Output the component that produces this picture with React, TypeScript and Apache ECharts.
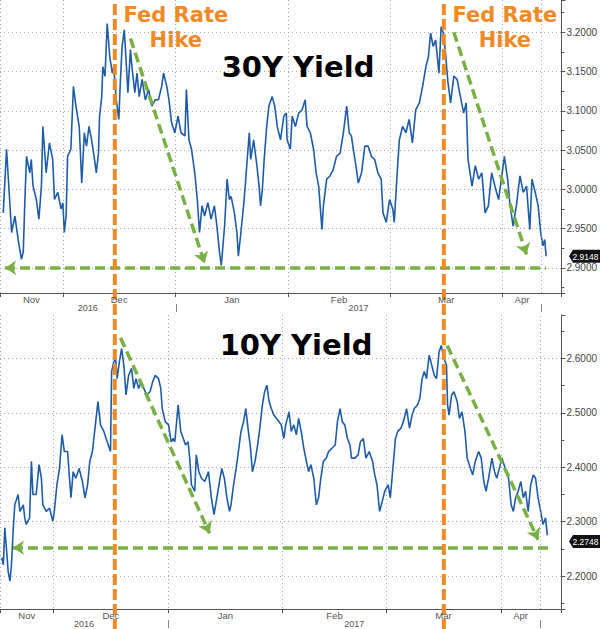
import React, { useEffect, useRef } from "react";
import * as echarts from "echarts";

const DAY = 86400000;
const BASE = new Date(2016, 11, 1).getTime(); // 2016-12-01, day 0
const ts = (d: number) => BASE + d * DAY;

// 30Y yield: days since 2016-12-01 and yield (%)
const days30 = [-16.4,-15.5,-14.1,-13.2,-12.3,-11.4,-10.9,-10.5,-10.0,-9.1,-8.7,-8.2,-7.3,-6.6,-5.9,-5.5,-4.6,-3.7,-2.8,-2.3,-1.4,-0.5,0.0,0.4,0.9,1.3,2.2,2.9,3.6,4.5,5.2,5.9,6.5,7.2,7.9,8.6,9.2,9.8,10.1,10.7,11.0,11.6,12.2,12.9,13.6,14.0,14.7,15.4,15.8,16.3,16.9,17.5,17.9,18.6,19.0,19.8,20.4,21.0,21.8,22.7,23.6,24.5,25.4,26.3,27.2,27.7,28.6,29.2,29.9,30.8,31.7,32.5,33.6,34.0,34.7,35.4,36.3,37.0,37.6,38.3,39.0,39.9,40.8,41.7,42.4,43.1,43.6,44.5,45.2,45.8,46.3,47.2,47.9,48.3,49.0,49.9,50.6,51.3,51.7,52.5,53.4,54.0,54.4,54.9,55.4,56.1,56.7,57.6,58.3,59.0,59.9,60.8,61.5,61.7,62.6,63.1,64.0,64.9,65.8,66.7,67.2,68.1,69.0,69.7,70.4,71.3,71.7,72.6,73.5,74.4,75.3,76.3,77.2,78.1,78.8,79.4,80.1,80.8,81.3,82.2,83.1,84.0,84.9,85.8,86.7,87.6,88.1,89.0,89.9,90.8,91.2,91.9,92.6,93.5,94.4,95.3,96.2,97.1,98.1,99.0,99.9,100.6,101.2,101.9,102.6,103.5,104.1,104.7,105.3,106.0,106.7,107.6,108.5,109.4,110.3,111.0,111.5,112.6,113.5,114.4,115.3,116.2,117.1,118.0,118.9,119.9,120.8,121.5,122.4,123.0,123.9,124.8,125.8,126.7,127.6,128.5,129.1,130.0,130.8,131.5,132.1,132.6,133.0];
const yld30 = [2.970,3.051,2.945,2.966,2.936,2.911,2.920,2.979,3.042,3.021,3.038,3.004,2.987,2.962,3.004,3.080,3.021,3.059,3.038,2.987,2.996,2.975,2.983,2.945,2.966,3.042,3.051,3.131,3.106,3.080,3.008,3.072,3.055,3.080,3.063,3.042,3.021,3.046,3.093,3.118,3.156,3.144,3.211,3.169,3.148,3.156,3.114,3.089,3.135,3.182,3.203,3.156,3.123,3.178,3.156,3.123,3.148,3.118,3.140,3.114,3.127,3.106,3.114,3.114,3.131,3.148,3.131,3.114,3.085,3.072,3.093,3.072,3.068,3.127,3.063,3.051,3.021,2.987,2.945,2.979,2.966,2.983,2.962,2.979,2.953,2.920,2.903,2.953,3.013,2.987,2.991,2.970,2.945,2.915,2.945,2.987,3.030,3.072,3.038,3.063,3.030,3.004,2.979,3.000,3.038,3.080,3.106,3.118,3.106,3.080,3.063,3.093,3.097,3.063,3.051,3.093,3.080,3.097,3.101,3.114,3.080,3.072,3.051,3.021,3.004,2.949,2.979,3.013,3.017,3.025,3.042,3.046,3.072,3.106,3.072,3.068,3.046,3.025,3.008,3.021,3.055,3.055,3.042,3.038,3.021,3.013,2.970,2.958,2.987,2.975,2.958,3.013,3.063,3.080,3.072,3.089,3.059,3.101,3.110,3.131,3.156,3.169,3.199,3.182,3.190,3.148,3.207,3.199,3.173,3.135,3.110,3.144,3.140,3.118,3.097,3.110,3.038,3.004,3.030,3.013,3.021,2.970,2.979,3.021,3.004,2.987,3.017,3.042,3.013,2.983,2.953,2.979,3.017,2.996,3.004,2.949,3.013,2.996,2.979,2.945,2.928,2.936,2.9148];

// 10Y yield: days since 2016-12-01 and yield (%)
const days10 = [-14.0,-13.6,-13.2,-12.7,-12.3,-11.8,-11.4,-10.9,-10.5,-9.6,-9.1,-8.2,-7.8,-7.4,-6.5,-6.0,-5.6,-4.7,-3.95,-3.3,-2.9,-2.0,-1.1,-0.2,0.2,0.9,1.6,2.3,2.9,3.8,4.3,4.7,5.3,6.0,6.9,7.8,8.5,9.2,9.8,10.5,11.4,12.0,12.7,13.6,14.5,15.4,15.7,16.3,16.8,17.2,17.8,18.4,19.0,19.6,20.3,21.1,21.7,22.3,23.0,23.7,24.4,25.2,26.1,26.8,27.5,28.4,29.0,29.4,30.2,31.1,31.8,32.4,32.8,33.7,34.4,35.1,35.7,36.4,36.9,37.3,38.2,38.6,39.3,40.0,40.9,41.9,42.7,43.4,44.0,44.9,45.5,46.2,46.9,47.6,48.0,48.7,49.4,50.0,50.7,51.4,52.0,52.7,53.2,53.8,54.5,55.2,55.8,56.5,57.1,57.7,58.3,58.9,59.6,60.3,61.0,61.6,62.3,62.8,63.7,64.3,65.0,65.7,66.3,67.0,67.7,68.4,69.0,69.6,70.4,71.1,71.7,72.3,73.0,73.8,74.4,75.3,76.2,76.8,77.5,78.1,78.8,79.5,80.2,80.6,81.5,82.4,83.0,83.8,84.5,85.4,86.3,86.9,87.5,88.2,88.9,89.6,90.5,91.1,91.8,92.5,93.1,94.0,94.9,95.5,96.3,97.0,97.6,98.5,99.1,99.7,100.3,100.9,101.6,102.3,103.0,103.6,104.3,104.9,105.6,106.3,106.6,107.0,107.7,108.3,109.2,109.8,110.5,111.3,111.9,112.8,113.4,114.1,115.0,115.7,116.4,117.0,117.7,118.6,119.3,119.9,120.6,121.3,122.2,123.1,123.8,124.4,125.0,125.7,126.4,127.1,127.7,128.4,129.1,129.8,130.4,131.1,131.8,132.4,133.1,133.6];
const yld10 = [2.234,2.221,2.289,2.246,2.209,2.191,2.221,2.289,2.331,2.350,2.319,2.331,2.307,2.295,2.307,2.411,2.350,2.350,2.405,2.380,2.331,2.319,2.325,2.301,2.319,2.368,2.398,2.460,2.429,2.429,2.380,2.344,2.392,2.380,2.398,2.374,2.344,2.368,2.411,2.429,2.484,2.521,2.478,2.466,2.447,2.429,2.576,2.594,2.600,2.563,2.594,2.618,2.588,2.533,2.569,2.582,2.545,2.563,2.545,2.557,2.545,2.533,2.539,2.557,2.569,2.563,2.545,2.508,2.484,2.478,2.447,2.453,2.447,2.515,2.466,2.453,2.441,2.447,2.411,2.368,2.356,2.423,2.392,2.380,2.374,2.392,2.344,2.313,2.337,2.374,2.398,2.380,2.344,2.319,2.331,2.368,2.398,2.429,2.466,2.484,2.508,2.466,2.441,2.392,2.411,2.441,2.472,2.515,2.539,2.551,2.521,2.508,2.496,2.490,2.484,2.478,2.453,2.478,2.502,2.466,2.478,2.460,2.490,2.466,2.435,2.411,2.392,2.405,2.380,2.331,2.344,2.380,2.411,2.417,2.429,2.435,2.441,2.484,2.508,2.484,2.478,2.453,2.441,2.417,2.417,2.423,2.447,2.453,2.417,2.429,2.411,2.386,2.368,2.319,2.337,2.356,2.368,2.344,2.398,2.453,2.466,2.472,2.490,2.508,2.472,2.496,2.508,2.515,2.527,2.563,2.576,2.563,2.606,2.588,2.569,2.563,2.612,2.624,2.600,2.588,2.515,2.496,2.533,2.539,2.521,2.490,2.502,2.466,2.417,2.398,2.386,2.411,2.429,2.417,2.374,2.356,2.380,2.417,2.392,2.380,2.398,2.417,2.398,2.380,2.331,2.319,2.344,2.356,2.374,2.344,2.356,2.319,2.368,2.386,2.380,2.344,2.319,2.295,2.307,2.2748];

// Axis ranges (days since 2016-12-01 / yield)
const xRange30 = [-17.3, 137.2];
const xRange10 = [-14.5, 137.4];
const yRange30 = [2.868, 3.241];
const yRange10 = [2.1396, 2.68];
const yStep30 = 0.05;
const yStep10 = 0.1;

// Month / year labels
const monthNames = ["Nov", "Dec", "Jan", "Feb", "Mar", "Apr"];
const monthStartDays = [0, 31, 62, 90, 121];
const yearNames = ["2016", "2017"];
const yearStartDay = 31;
const rangeEndDay = 131.7;

// Annotations
const hikeDays = [14.3, 104.85];
const titles = ["30Y Yield", "10Y Yield"];
const hikeText = "Fed Rate\nHike";
// green arrows: [startDay, startYield, endDay, endYield]
const arrows30 = [
  [18.6, 3.192, 39.0, 2.906],
  [107.6, 3.2, 127.6, 2.917],
];
const support30 = [-15.9, 133.0, 2.9];
const arrows10 = [
  [18.1, 2.638, 42.2, 2.279],
  [106.5, 2.624, 131.1, 2.267],
];
const support10 = [-11.0, 133.8, 2.2522];

const GREEN = "#77b043";
const ORANGE = "#f08a26";
const GRID = "#a8a8a8";
const AXIS = "#555";
const LABEL_FONT = "'Liberation Sans Narrow', 'Liberation Sans', sans-serif";

export default function App() {
  const ref = useRef<HTMLDivElement>(null);
  useEffect(() => {
    if (!ref.current) return;
    const chart = echarts.init(ref.current, null, { renderer: "svg" });

    const panels = [
      { days: days30, ylds: yld30, xr: xRange30, yr: yRange30, step: yStep30, arrows: arrows30, sup: support30 },
      { days: days10, ylds: yld10, xr: xRange10, yr: yRange10, step: yStep10, arrows: arrows10, sup: support10 },
    ];

    const greenStyle = { color: GREEN, width: 3.5, type: [10, 5] as any };

    const option: any = {
      animation: false,
      grid: [
        { left: 0, top: 0, width: 567, height: 293 },
        { left: 0, top: 315, width: 567, height: 294 },
      ],
      xAxis: panels.map((p, gi) => ({
        type: "time",
        gridIndex: gi,
        min: ts(p.xr[0]),
        max: ts(p.xr[1]),
        splitNumber: 5,
        axisLine: { show: true, lineStyle: { color: AXIS, width: 1 } },
        axisTick: { show: true, length: 4, lineStyle: { color: AXIS } },
        axisLabel: { show: false },
        splitLine: { show: true, lineStyle: { color: GRID, type: [1, 3], width: 1 } },
      })),
      yAxis: panels.map((p, gi) => ({
        type: "value",
        gridIndex: gi,
        position: "right",
        min: p.yr[0],
        max: p.yr[1],
        minInterval: p.step,
        maxInterval: p.step,
        splitNumber: 6,
        axisLine: { show: true, lineStyle: { color: AXIS, width: 1 } },
        axisTick: { show: true, length: 4, lineStyle: { color: AXIS } },
        minorTick: { show: true, splitNumber: 2, length: 3, lineStyle: { color: AXIS } },
        axisLabel: {
          show: true,
          margin: 5,
          color: "#444",
          fontSize: 10,
          fontFamily: LABEL_FONT,
          showMinLabel: false,
          showMaxLabel: false,
          formatter: (v: number) => v.toFixed(4),
        },
        splitLine: { show: true, showMinLine: false, showMaxLine: false, lineStyle: { color: GRID, type: [1, 3], width: 1 } },
      })),
      series: panels.map((p, gi) => ({
        type: "line",
        xAxisIndex: gi,
        yAxisIndex: gi,
        data: p.days.map((d, i) => [ts(d), p.ylds[i]]),
        showSymbol: false,
        silent: true,
        lineStyle: { color: "#1f5ca8", width: 1.6 },
        markLine: {
          silent: true,
          animation: false,
          symbol: ["none", "arrow"],
          symbolSize: 11,
          label: { show: false },
          lineStyle: greenStyle,
          data: [
            ...p.arrows.map((a) => [
              { coord: [ts(a[0]), a[1]] },
              { coord: [ts(a[2]), a[3]] },
            ]),
            [
              { coord: [ts(p.sup[0]), p.sup[2]], symbol: "arrow" },
              { coord: [ts(p.sup[1]), p.sup[2]], symbol: "none" },
            ],
            [
              { coord: [ts(rangeEndDay), p.yr[0]], symbol: "none", lineStyle: { color: GRID, type: [1, 3], width: 1 } },
              { coord: [ts(rangeEndDay), p.yr[1]], symbol: "none" },
            ],
          ],
        },
      })),
    };
    chart.setOption(option);

    const xp = (gi: number, d: number) => chart.convertToPixel({ xAxisIndex: gi }, ts(d)) as number;
    const yp = (gi: number, v: number) => chart.convertToPixel({ yAxisIndex: gi }, v) as number;

    const g: any[] = [];
    const txt = (x: number, y: number, text: string, s: any) => ({
      type: "text",
      x,
      y,
      silent: true,
      z: 100,
      style: {
        text,
        textAlign: "center",
        align: "center",
        textVerticalAlign: "middle",
        verticalAlign: "middle",
        ...s,
      },
    });

    panels.forEach((p, gi) => {
      const bottom = yp(gi, p.yr[0]);
      const b = [p.xr[0], ...monthStartDays, rangeEndDay];
      monthNames.forEach((m, i) => {
        const x = (xp(gi, b[i]) + xp(gi, b[i + 1])) / 2;
        g.push(txt(x, bottom + 6.5, m, { fill: "#555", fontSize: 9.5, fontFamily: LABEL_FONT }));
      });
      const yb = [p.xr[0], yearStartDay, rangeEndDay];
      yearNames.forEach((yn, i) => {
        const x = (xp(gi, yb[i]) + xp(gi, yb[i + 1])) / 2;
        g.push(txt(x, bottom + 14.5, yn, { fill: "#555", fontSize: 9, fontFamily: LABEL_FONT }));
      });
      [yearStartDay, rangeEndDay].forEach((d) => {
        const x = Math.round(xp(gi, d)) + 0.5;
        g.push({
          type: "line",
          silent: true,
          shape: { x1: x, y1: bottom + 11, x2: x, y2: bottom + 19 },
          style: { stroke: "#888", lineWidth: 1 },
        });
      });
      // last value tag
      const last = p.ylds[p.ylds.length - 1];
      const cy = yp(gi, last) + (gi === 1 ? 6 : 0);
      const xl = 569;
      g.push({
        type: "polygon",
        silent: true,
        z: 100,
        shape: { points: [[xl, cy], [xl + 4, cy - 6.5], [600, cy - 6.5], [600, cy + 6.5], [xl + 4, cy + 6.5]] },
        style: { fill: "#111" },
      });
      g.push(txt(585.5, cy + 0.5, last.toFixed(4), { fill: "#fff", fontSize: 8.5, fontFamily: LABEL_FONT }));
    });

    // titles
    g.push(txt(298, 67, titles[0], { fill: "#000", fontSize: 29, fontWeight: "bold", fontFamily: "DejaVu Sans" }));
    g.push(txt(296, 345, titles[1], { fill: "#000", fontSize: 29, fontWeight: "bold", fontFamily: "DejaVu Sans" }));

    // Fed rate hike lines and labels
    hikeDays.forEach((d) => {
      const x = xp(0, d);
      g.push({
        type: "line",
        silent: true,
        z: 90,
        shape: { x1: x, y1: 4, x2: x, y2: 629 },
        style: { stroke: ORANGE, lineWidth: 4, lineDash: [11, 4] },
      });
      g.push(
        txt(x + 61, 27, hikeText, {
          fill: ORANGE,
          fontSize: 21,
          fontWeight: "bold",
          fontFamily: "DejaVu Sans",
          lineHeight: 25,
        })
      );
    });

    chart.setOption({ graphic: g });
    return () => chart.dispose();
  }, []);

  return (
    <div
      ref={ref}
      style={{ position: "absolute", left: 0, top: 0, width: 600, height: 629, background: "#fff" }}
    />
  );
}
